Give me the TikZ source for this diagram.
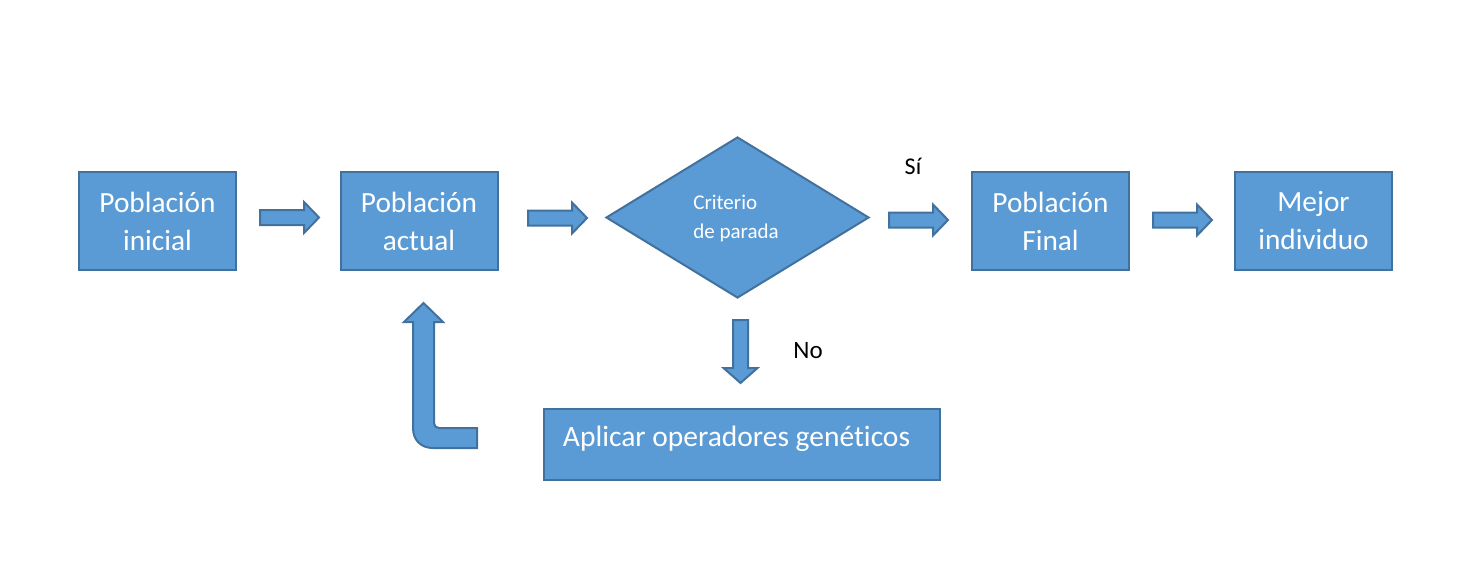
\documentclass[tikz,border=0pt]{standalone}
\usepackage{fontspec}
\setmainfont{Carlito}[Ligatures={NoCommon}]
\usetikzlibrary{shapes.geometric}
\definecolor{boxfill}{HTML}{5B9BD5}
\definecolor{boxline}{HTML}{41719C}
\tikzset{
  box/.style={draw=boxline, fill=boxfill, line width=2pt, minimum width=157pt, minimum height=98pt,
    inner sep=0pt, align=center, text=white, font=\fontsize{29.3}{38}\selectfont},
  blockarrow/.style={draw=boxline, fill=boxfill, line width=2pt, line join=miter},
  lbl/.style={text=black, inner sep=0pt, font=\fontsize{25}{30}\selectfont},
  rarrow/.pic={\path[blockarrow] (0,-7.5) -- (44,-7.5) -- (44,-15.5) -- (59,0) -- (44,15.5) -- (44,7.5) -- (0,7.5) -- cycle;}
}
\begin{document}
\begin{tikzpicture}[x=1pt,y=-1pt]
\useasboundingbox (0,0) rectangle (1477,578);
\node[box] (inicial) at (157.5,221) {Población\\inicial};
\node[box] (actual) at (419,221) {Población\\actual};
\node[draw=boxline, fill=boxfill, line width=2pt, diamond, minimum width=263pt, minimum height=161pt,
  inner sep=0pt] (criterio) at (737.5,217.5) {};
\node[text=white, align=left, inner sep=0pt, font=\fontsize{21}{29}\selectfont] (criteriotxt) at (736,218) {Criterio\\de parada};
\node[box] (final) at (1050.5,221) {Población\\Final};
\node[box] (mejor) at (1313.5,221) {Mejor\\individuo};
\node[box, minimum width=396pt, minimum height=71pt] (aplicar) at (741.5,444) {};
\node[text=white, inner sep=0pt, font=\fontsize{29.5}{38}\selectfont] (aplicartxt) at (736.5,439) {Aplicar operadores genéticos};
\node[lbl, font=\fontsize{24}{30}\selectfont] (si) at (913,166) {Sí};
\node[lbl] (no) at (808,351) {No};
\pic at (260,217.5) {rarrow};
\pic at (528,218) {rarrow};
\pic at (889,220) {rarrow};
\pic at (1153,220) {rarrow};
\path[blockarrow] (733,320) -- (748,320) -- (748,368) -- (757.5,368) -- (740.5,383) -- (723.5,368) -- (733,368) -- cycle;
\path[blockarrow] (477,448) -- (433,448) .. controls (421,448) and (413,440) .. (413,428) -- (413,322) -- (404,322) -- (423.5,303) -- (443,322) -- (434,322) -- (434,423) .. controls (434,426) and (436,428) .. (439,428) -- (477,428) -- cycle;
\end{tikzpicture}
\end{document}
